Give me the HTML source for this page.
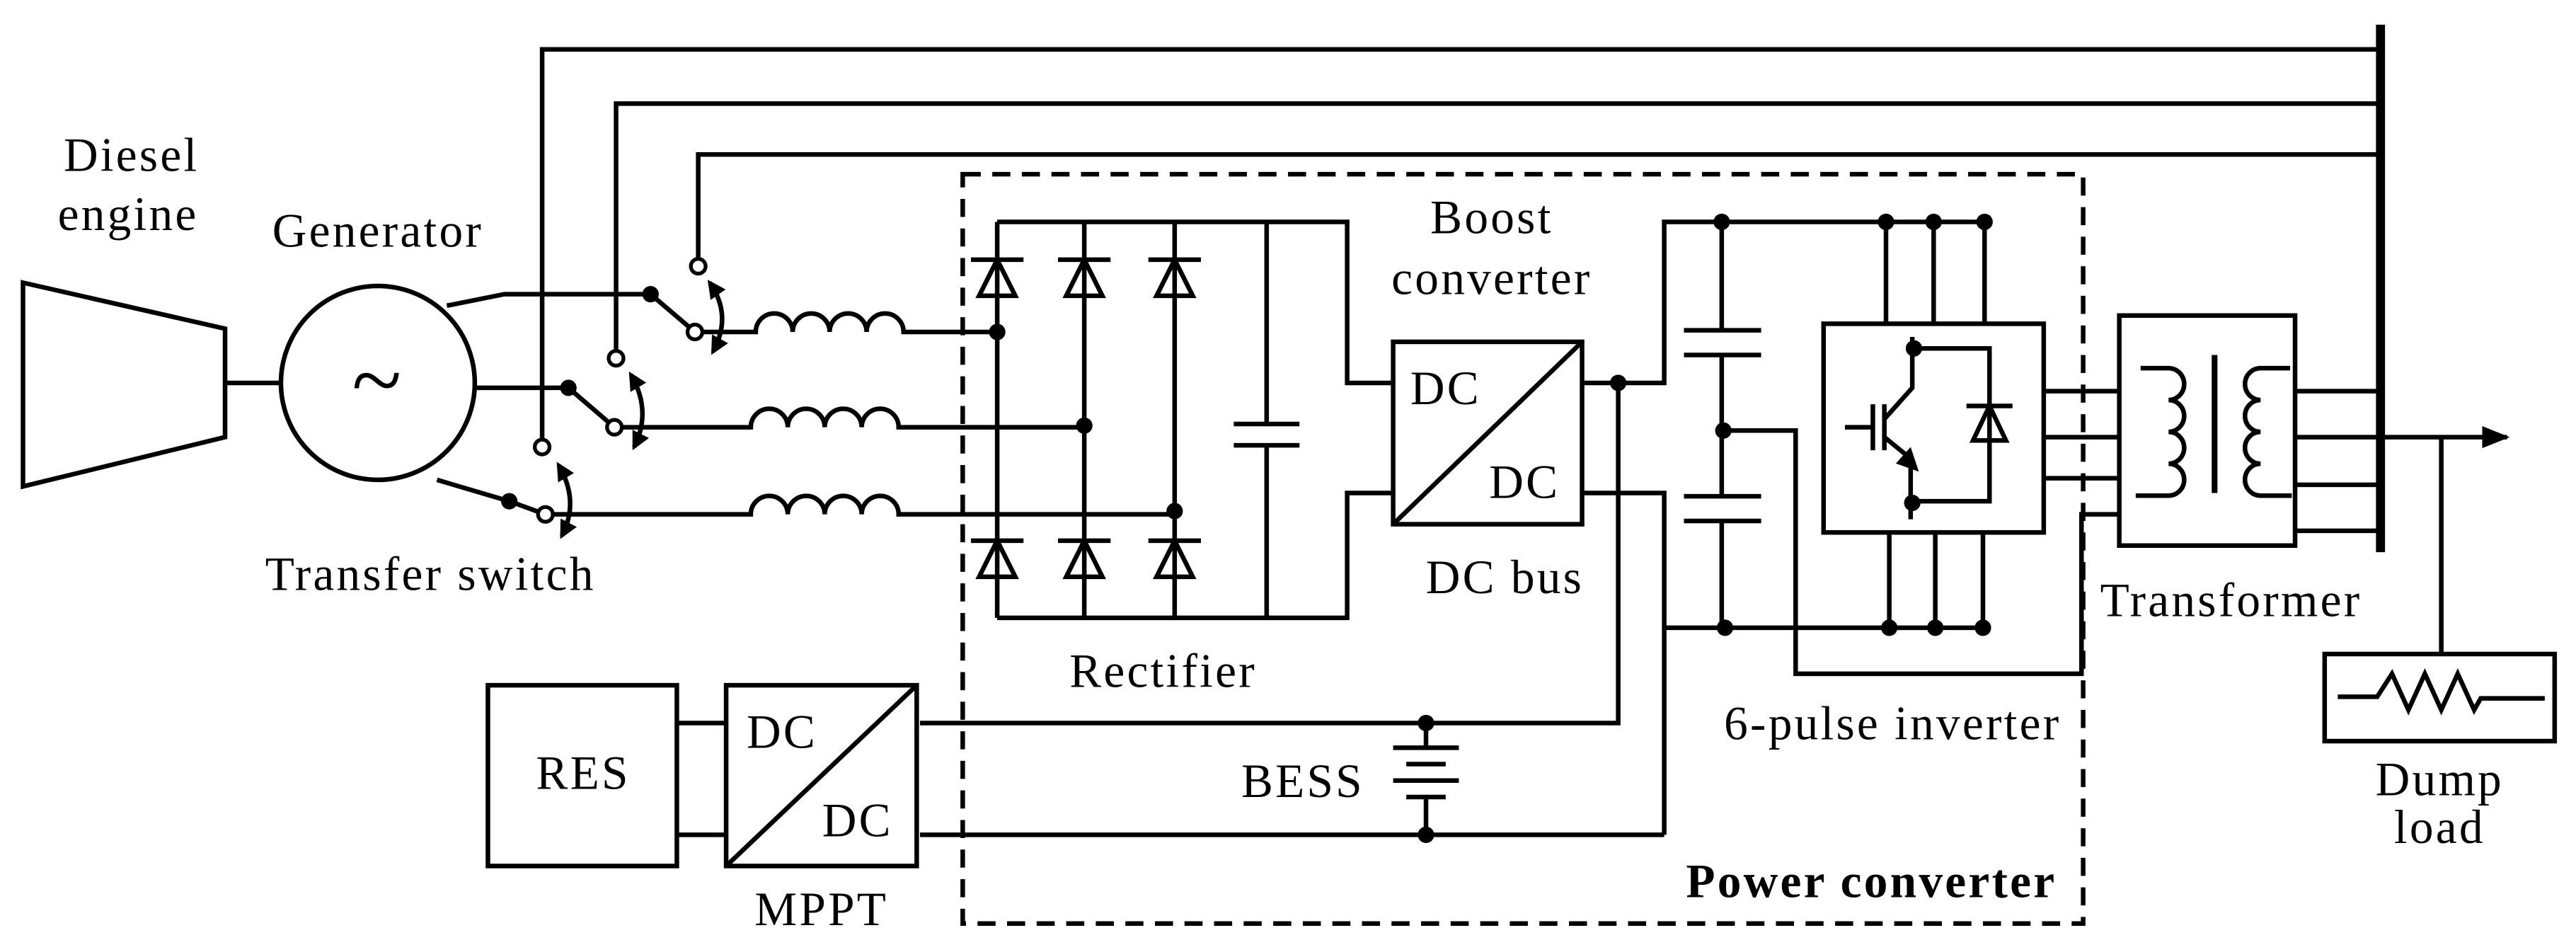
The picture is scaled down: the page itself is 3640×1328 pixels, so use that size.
<!DOCTYPE html>
<html><head><meta charset="utf-8"><style>
html,body{margin:0;padding:0;background:#fff;}
svg{display:block;}
text{font-family:"Liberation Serif",serif;font-size:29px;letter-spacing:1.4px;fill:#000;}
</style></head><body>
<svg width="3640" height="1328" viewBox="0 0 1568 572" xmlns="http://www.w3.org/2000/svg">
<defs>
<marker id="ah" viewBox="0 0 10 10" refX="8" refY="5" markerWidth="4" markerHeight="4" orient="auto-start-reverse"><path d="M0,0 L10,5 L0,10 z" fill="#000"/></marker>
<marker id="ar" viewBox="0 0 10 10" refX="9" refY="5" markerWidth="6" markerHeight="6" orient="auto"><path d="M0,1 L10,5 L0,9 z" fill="#000"/></marker>
</defs>
<g fill="none" stroke="#000" stroke-width="2.8">
<path d="M330,272 V30 H1450 M375,216 V63 H1450 M425,158 V94 H1450"/>
<line x1="1449" y1="15" x2="1449" y2="336" stroke-width="5.5"/>
<path d="M14,172 L137,200 L137,266 L14,296 Z M137,233 H172"/>
<circle cx="230" cy="233" r="59"/>
<path d="M272,186 L307,179 H396 L423,202 M289,236 H346 L374,260 M266,292 L310,305 L332,313"/>
<path d="M423,202 H460 a11.25,11.25 0 0 1 22.5,0 a11.25,11.25 0 0 1 22.5,0 a11.25,11.25 0 0 1 22.5,0 a11.25,11.25 0 0 1 22.5,0 H607"/>
<path d="M374,260 H457 a11.25,11.25 0 0 1 22.5,0 a11.25,11.25 0 0 1 22.5,0 a11.25,11.25 0 0 1 22.5,0 a11.25,11.25 0 0 1 22.5,0 H660"/>
<path d="M332,313 H457 a11.25,11.25 0 0 1 22.5,0 a11.25,11.25 0 0 1 22.5,0 a11.25,11.25 0 0 1 22.5,0 a11.25,11.25 0 0 1 22.5,0 H715"/>
<path d="M432,172 Q446,192 434,214" marker-start="url(#ah)" marker-end="url(#ah)"/>
<path d="M384,228 Q397,250 386,272" marker-start="url(#ah)" marker-end="url(#ah)"/>
<path d="M340,283 Q353,305 342,326" marker-start="url(#ah)" marker-end="url(#ah)"/>
<rect x="586" y="106" width="682" height="456" stroke-dasharray="11,7"/>
<path d="M607,135 H820 V233 H848 M607,376 H820 V300 H848"/>
<path d="M607,135 V376 M660,135 V376 M715,135 V376"/>
<path d="M771,135 V258 M751,258 H791 M751,271 H791 M771,271 V376"/>
<g>
<path d="M591,158 H623 M607,158 L596,180 H618 Z"/>
<path d="M644,158 H676 M660,158 L649,180 H671 Z"/>
<path d="M699,158 H731 M715,158 L704,180 H726 Z"/>
<path d="M591,329 H623 M607,329 L596,351 H618 Z"/>
<path d="M644,329 H676 M660,329 L649,351 H671 Z"/>
<path d="M699,329 H731 M715,329 L704,351 H726 Z"/>
</g>
<rect x="848" y="208" width="115" height="111"/>
<path d="M848,319 L963,208"/>
<path d="M963,233 H1013 V135 H1210 M963,300 H1013 V508 M1013,382 H1210"/>
<path d="M985,233 V440 H560 M560,508 H1013"/>
<path d="M1048,135 V201 M1025,201 H1072 M1025,216 H1072 M1048,216 V302 M1025,302 H1072 M1025,317 H1072 M1048,317 V382"/>
<path d="M1049,262 H1093 V410 H1267 V313 H1290"/>
<rect x="1110" y="197" width="134" height="127"/>
<path d="M1148,135 V197 M1177,135 V197 M1208,135 V197 M1150,324 V382 M1178,324 V382 M1207,324 V382"/>
<path d="M1123,260 H1139 M1140,246 V274 M1147,246 V274 M1147,255 L1164,236 V205 M1147,266 L1163,279"/>
<path d="M1163,279 V316 M1165,212 H1211 V305 H1165 M1197,247 H1225 M1211,247 L1201,268 H1221 Z"/>
<path d="M1244,238 H1290 M1244,266 H1290 M1244,291 H1290"/>
<rect x="1290" y="192" width="107" height="140"/>
<path d="M1303,224 H1320 a9.5,9.7 0 0 1 0,19.4 a9.5,9.7 0 0 1 0,19.4 a9.5,9.7 0 0 1 0,19.4 a9.5,9.7 0 0 1 0,19.4 H1300"/>
<line x1="1348" y1="216" x2="1348" y2="300" stroke-width="3.5"/>
<path d="M1394,224 H1376 a9.5,9.7 0 0 0 0,19.4 a9.5,9.7 0 0 0 0,19.4 a9.5,9.7 0 0 0 0,19.4 a9.5,9.7 0 0 0 0,19.4 H1395"/>
<path d="M1397,238 H1449 M1397,266 H1449 M1397,295 H1449 M1397,323 H1449"/>
<path d="M1449,266 H1526" marker-end="url(#ar)"/>
<path d="M1486,266 V398"/>
<rect x="1415" y="398" width="140" height="53"/>
<path d="M1423,424 H1447 L1456,410 L1466,432 L1476,410 L1486,432 L1496,410 L1506,432 L1510,425 H1549"/>
<rect x="297" y="417" width="115" height="110"/>
<rect x="442" y="417" width="116" height="110"/>
<path d="M442,527 L558,417 M412,440 H442 M412,508 H442"/>
<path d="M868,440 V455 M848,455 H888 M856,465 H880 M848,475 H888 M856,485 H880 M868,485 V508"/>
</g>
<g fill="#000">
<circle cx="396" cy="179" r="5"/><circle cx="346" cy="236" r="5"/><circle cx="310" cy="305" r="5"/>
<circle cx="607" cy="202" r="5"/><circle cx="660" cy="259" r="5"/><circle cx="715" cy="311" r="5"/>
<circle cx="985" cy="233" r="5"/><circle cx="1048" cy="135" r="5"/><circle cx="1148" cy="135" r="5"/><circle cx="1177" cy="135" r="5"/><circle cx="1208" cy="135" r="5"/>
<circle cx="1049" cy="262" r="5"/>
<circle cx="1050" cy="382" r="5"/><circle cx="1150" cy="382" r="5"/><circle cx="1178" cy="382" r="5"/><circle cx="1207" cy="382" r="5"/>
<circle cx="868" cy="440" r="5"/><circle cx="868" cy="508" r="5"/>
<circle cx="1165" cy="212" r="5"/><circle cx="1164" cy="306" r="5"/>
<path d="M1154,282 L1168,287 L1163,272 Z"/>
</g>
<g fill="#fff" stroke="#000" stroke-width="2.3">
<circle cx="425" cy="162" r="4.5"/><circle cx="423" cy="202" r="4.5"/>
<circle cx="375" cy="218" r="4.5"/><circle cx="374" cy="260" r="4.5"/>
<circle cx="330" cy="272" r="4.5"/><circle cx="332" cy="313" r="4.5"/>
</g>
<text x="80" y="104" text-anchor="middle">Diesel</text>
<text x="78" y="140" text-anchor="middle">engine</text>
<text x="230" y="150" text-anchor="middle">Generator</text>
<text x="230" y="250" text-anchor="middle" style="font-size:56px">~</text>
<text x="262" y="359" text-anchor="middle">Transfer switch</text>
<text x="908" y="142" text-anchor="middle">Boost</text>
<text x="908" y="179" text-anchor="middle">converter</text>
<text x="880" y="246" text-anchor="middle">DC</text>
<text x="928" y="303" text-anchor="middle">DC</text>
<text x="916" y="361" text-anchor="middle">DC bus</text>
<text x="708" y="418" text-anchor="middle">Rectifier</text>
<text x="793" y="485" text-anchor="middle">BESS</text>
<text x="1152" y="450" text-anchor="middle">6-pulse inverter</text>
<text x="1358" y="375" text-anchor="middle">Transformer</text>
<text x="1485" y="484" text-anchor="middle">Dump</text>
<text x="1485" y="513" text-anchor="middle">load</text>
<text x="355" y="480" text-anchor="middle">RES</text>
<text x="476" y="455" text-anchor="middle">DC</text>
<text x="522" y="509" text-anchor="middle">DC</text>
<text x="500" y="563" text-anchor="middle">MPPT</text>
<text x="1252" y="546" text-anchor="end" font-weight="bold">Power converter</text>
</svg>
</body></html>
